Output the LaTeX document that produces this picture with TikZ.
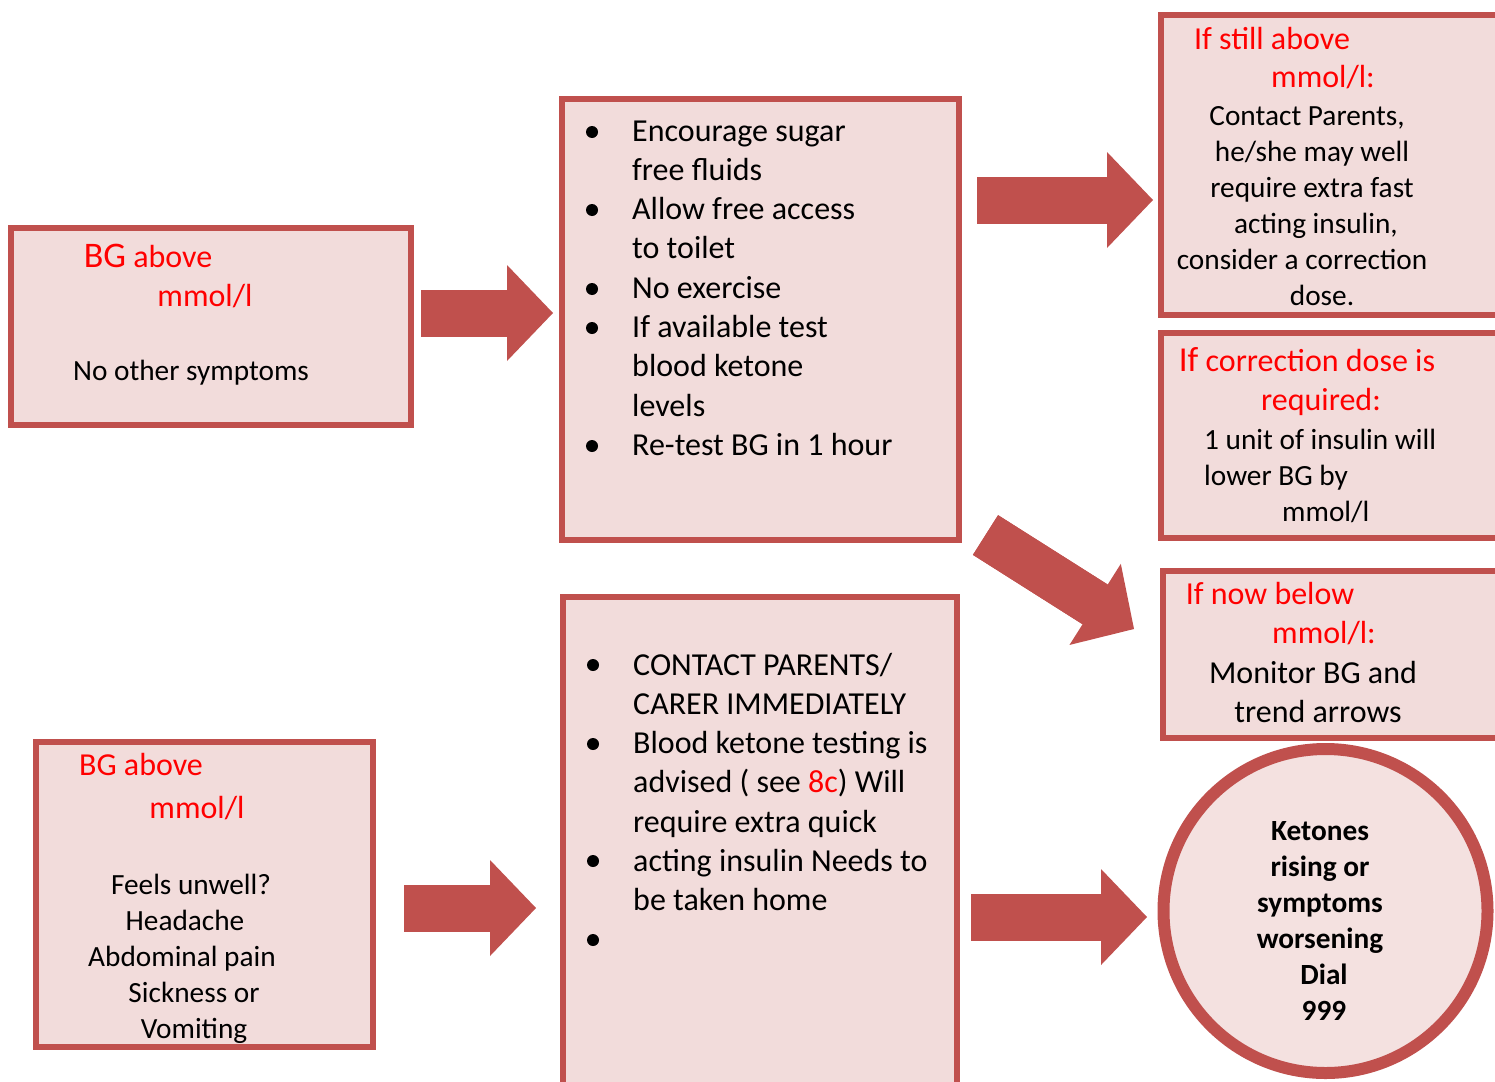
\documentclass[tikz,border=0pt]{standalone}
\usepackage{fontspec}
\setmainfont{Carlito}
\usetikzlibrary{arrows.meta}
\definecolor{boxred}{HTML}{C0504D}
\definecolor{boxfill}{HTML}{F2DCDB}
\definecolor{ringfill}{HTML}{F4E1E0}
\definecolor{hotred}{HTML}{FF0000}

\newcommand{\txtS}{\fontsize{29.3}{36}\selectfont}
\newcommand{\txtL}{\fontsize{32}{39.3}\selectfont}
% nudge one centred line sideways
\newcommand{\nudge}[2]{\hspace*{#1}#2\hspace*{-#1}}

\tikzset{
  panel/.style={draw=boxred, fill=boxfill, line width=6pt, rectangle, inner sep=0pt},
  txt/.style={inner sep=0pt, anchor=base},
  redtxt/.style={txt, text=hotred, font=\txtL},
  bigarrow/.style={draw=boxred, line width=47pt, -{Triangle[length=46pt, width=96pt, line width=0pt]},
    postaction={draw=boxred, -, shorten >=28pt}}
}

\begin{document}
\begin{tikzpicture}[x=1pt, y=-1pt]
\useasboundingbox (0,0) rectangle (1495,1081);
\clip (0,0) rectangle (1495,1081);

% boxes
\node[panel, minimum width=400pt, minimum height=197pt] (bgA) at (211,326.5) {};
\node[panel, minimum width=397pt, minimum height=441pt] (adviceA) at (760.5,319.5) {};
\node[panel, minimum width=369pt, minimum height=300pt] (stillA) at (1345.5,165) {};
\node[panel, minimum width=369pt, minimum height=205pt] (corrA) at (1345.5,435.5) {};
\node[panel, minimum width=367pt, minimum height=167pt] (belowA) at (1346.5,654.5) {};
\node[panel, minimum width=337pt, minimum height=305pt] (bgB) at (204.5,894.5) {};
\node[panel, minimum width=394pt, minimum height=523pt] (adviceB) at (760,858.5) {};
\node[circle, draw=boxred, fill=ringfill, line width=12pt, inner sep=0pt, minimum size=324pt] (dial) at (1325.5,911) {};

% top left
\node[txt, text=hotred, font=\txtL] (bgA-t1) at (148,267) {{\fontsize{36}{39}\selectfont BG} above};
\node[redtxt] (bgA-t2) at (205,306) {mmol/l};
\node[txt, font=\txtS] (bgA-t3) at (191,380) {No other symptoms};

% top middle
\foreach \y in {132,210,289,328,446}
  \fill (592,\y) circle (6pt);
\node[txt, anchor=base west, font=\txtL] (adviceA-t) at (632,141) {\begin{tabular}[t]{@{}l@{}}
  Encourage sugar\\ free fluids\\ Allow free access\\ to toilet\\ No exercise\\
  If available test\\ blood ketone\\ levels\\ Re-test BG in 1 hour\end{tabular}};

% right column
\node[redtxt] (stillA-t1) at (1272,49) {If still above};
\node[redtxt] (stillA-t2) at (1323,87) {mmol/l:};
\node[txt, font=\txtS] (stillA-t3) at (1312,125) {\begin{tabular}[t]{@{}c@{}}
  \nudge{-5pt}{Contact Parents,}\\ he/she may well\\ require extra fast\\ \nudge{4pt}{acting insulin,}\\
  \nudge{-10pt}{consider a correction}\\ \nudge{10pt}{dose.}\end{tabular}};

\node[txt, text=hotred, font=\txtL] (corrA-t1) at (1307,371) {{\fontsize{35}{39}\selectfont If} correction dose is};
\node[redtxt] (corrA-t2) at (1321,410) {required:};
\node[txt, anchor=base west, font=\txtS] (corrA-t3) at (1204,449) {\begin{tabular}[t]{@{}l@{}}
  1 unit of insulin will\\ lower BG by\\ \hspace*{78pt}mmol/l\end{tabular}};

\node[redtxt] (belowA-t1) at (1270,604) {If now below};
\node[redtxt] (belowA-t2) at (1324,643) {mmol/l:};
\node[txt, font=\txtL] (belowA-t3) at (1313,683) {\begin{tabular}[t]{@{}c@{}}
  Monitor BG and\\ \nudge{5pt}{trend arrows}\end{tabular}};

% bottom left
\node[redtxt] (bgB-t1) at (141,775) {BG above};
\node[redtxt] (bgB-t2) at (197,818) {mmol/l};
\node[txt, font=\txtS] (bgB-t3) at (188,894) {\begin{tabular}[t]{@{}c@{}}
  \nudge{3pt}{Feels unwell?}\\ \nudge{-3pt}{Headache}\\ \nudge{-6pt}{Abdominal pain}\\ \nudge{6pt}{Sickness or}\\ \nudge{6pt}{Vomiting}\end{tabular}};

% bottom middle
\foreach \y in {665,744,861,940}
  \fill (593,\y) circle (6pt);
\node[txt, anchor=base west, font=\txtL] (adviceB-t) at (633,675) {\begin{tabular}[t]{@{}l@{}}
  CONTACT PARENTS/\\ CARER IMMEDIATELY\\ Blood ketone testing is\\
  advised ( see \textcolor{hotred}{8c}) Will\\ require extra quick\\
  acting insulin Needs to\\ be taken home\end{tabular}};

\node[txt, font=\txtS\bfseries] (dial-t) at (1320,840) {\begin{tabular}[t]{@{}c@{}}
  Ketones\\ rising or\\ symptoms\\ worsening\\ \nudge{4pt}{Dial}\\ \nudge{4pt}{999}\end{tabular}};

% arrows
\coordinate (a1s) at (421,313);   \coordinate (a1e) at (553,313);
\coordinate (a2s) at (977,200);   \coordinate (a2e) at (1153,200);
\coordinate (a3s) at (404,908);   \coordinate (a3e) at (536,908);
\coordinate (a4s) at (971,917);   \coordinate (a4e) at (1147,917);
\coordinate (a5s) at (985.5,535); \coordinate (a5e) at (1134,629);
\foreach \s/\e in {a1s/a1e, a2s/a2e, a3s/a3e, a4s/a4e, a5s/a5e}
  \draw[bigarrow] (\s) -- (\e);
\end{tikzpicture}
\end{document}
